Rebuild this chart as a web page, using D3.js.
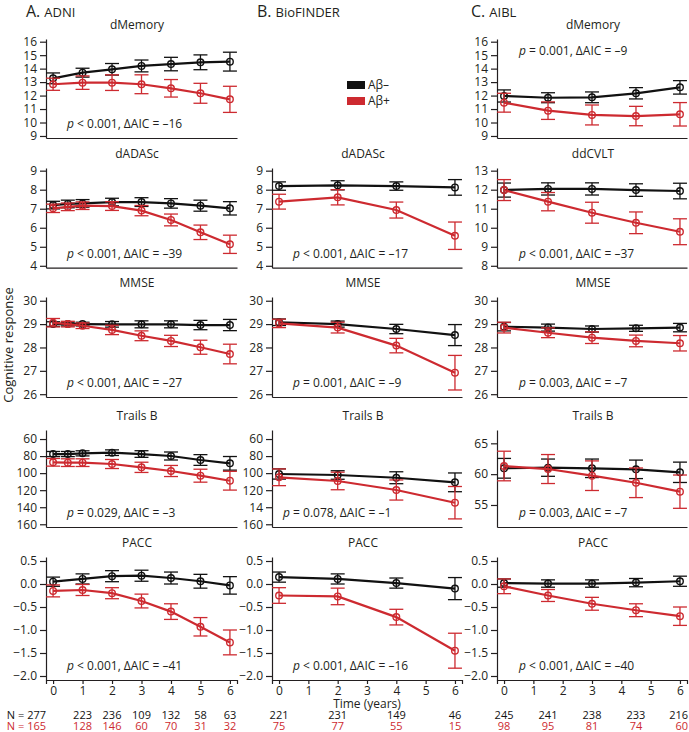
<!DOCTYPE html>
<html>
<head>
<meta charset="utf-8">
<script src="https://cdn.jsdelivr.net/npm/d3@7"></script>
<style>
  body { margin: 0; background: #fff; }
  svg text { font-family: "Open Sans", sans-serif; fill: #231f20; }
</style>
</head>
<body>
<svg id="chart" width="689" height="732"></svg>
<script>
var cohortLetters = ["A.", "B.", "C."];
var cohortNames = ["ADNI", "BioFINDER", "AIBL"];
var groupLabels = ["A\u03b2\u2013", "A\u03b2+"];

var adniVisits = [0, 1, 2, 3, 4, 5, 6];
var adniVisitsDense = [0, 0.5, 1, 2, 3, 4, 5, 6];
var bioVisits = [0, 2, 4, 6];
var aiblVisits = [0, 1.5, 3, 4.5, 6];
var timeTicks = [0, 1, 2, 3, 4, 5, 6];

var titlesADNI = ["dMemory", "dADASc", "MMSE", "Trails B", "PACC"];
var titlesBio = [null, "dADASc", "MMSE", "Trails B", "PACC"];
var titlesAIBL = ["dMemory", "ddCVLT", "MMSE", "Trails B", "PACC"];

// dMemory
var adniMemNeg = [13.28, 13.70, 13.95, 14.20, 14.34, 14.47, 14.52];
var adniMemNegCI = [0.40, 0.33, 0.43, 0.44, 0.50, 0.55, 0.70];
var adniMemPos = [12.84, 12.96, 12.96, 12.84, 12.54, 12.17, 11.72];
var adniMemPosCI = [0.45, 0.50, 0.58, 0.70, 0.65, 0.74, 0.97];
var aiblMemNeg = [11.97, 11.84, 11.87, 12.17, 12.61];
var aiblMemNegCI = [0.45, 0.37, 0.40, 0.42, 0.50];
var aiblMemPos = [11.47, 10.88, 10.56, 10.48, 10.61];
var aiblMemPosCI = [0.70, 0.65, 0.74, 0.72, 0.87];

// dADASc / ddCVLT
var adniAdasNeg = [7.19, 7.25, 7.28, 7.35, 7.35, 7.28, 7.16, 7.02];
var adniAdasNegCI = [0.20, 0.20, 0.20, 0.20, 0.23, 0.25, 0.29, 0.35];
var adniAdasPos = [7.02, 7.10, 7.16, 7.14, 6.90, 6.41, 5.76, 5.13];
var adniAdasPosCI = [0.22, 0.20, 0.20, 0.23, 0.27, 0.31, 0.38, 0.48];
var bioAdasNeg = [8.19, 8.23, 8.19, 8.12];
var bioAdasNegCI = [0.22, 0.24, 0.22, 0.41];
var bioAdasPos = [7.37, 7.60, 6.93, 5.58];
var bioAdasPosCI = [0.39, 0.40, 0.42, 0.72];
var aiblCvltNeg = [11.98, 12.04, 12.04, 11.98, 11.93];
var aiblCvltNegCI = [0.37, 0.32, 0.32, 0.33, 0.41];
var aiblCvltPos = [11.98, 11.37, 10.79, 10.26, 9.79];
var aiblCvltPosCI = [0.55, 0.48, 0.55, 0.57, 0.68];

// MMSE
var adniMmseNeg = [29.00, 29.00, 29.00, 28.99, 28.99, 28.99, 28.96, 28.96];
var adniMmseNegCI = [0.10, 0.08, 0.08, 0.12, 0.15, 0.15, 0.20, 0.24];
var adniMmsePos = [29.06, 29.00, 28.93, 28.75, 28.50, 28.28, 28.01, 27.72];
var adniMmsePosCI = [0.18, 0.12, 0.12, 0.20, 0.21, 0.24, 0.30, 0.42];
var bioMmseNeg = [29.08, 29.00, 28.79, 28.53];
var bioMmseNegCI = [0.14, 0.13, 0.20, 0.45];
var bioMmsePos = [29.03, 28.85, 28.08, 26.92];
var bioMmsePosCI = [0.18, 0.23, 0.31, 0.74];
var aiblMmseNeg = [28.89, 28.85, 28.79, 28.82, 28.85];
var aiblMmseNegCI = [0.18, 0.15, 0.13, 0.13, 0.18];
var aiblMmsePos = [28.85, 28.63, 28.42, 28.28, 28.18];
var aiblMmsePosCI = [0.23, 0.21, 0.25, 0.25, 0.33];

// Trails B
var adniTrailsNeg = [77.6, 77.6, 76.8, 76.0, 77.6, 79.9, 84.6, 88.5];
var adniTrailsNegCI = [3.0, 3.0, 3.0, 3.3, 3.9, 4.7, 6.3, 8.0];
var adniTrailsPos = [87.3, 87.7, 87.7, 89.3, 93.2, 97.5, 103.0, 108.9];
var adniTrailsPosCI = [4.5, 4.5, 4.5, 5.3, 6.0, 6.5, 7.6, 11.0];
var bioTrailsNeg = [101.0, 102.2, 105.4, 110.8];
var bioTrailsNegCI = [6.0, 5.0, 7.0, 11.0];
var bioTrailsPos = [104.9, 109.2, 119.8, 134.7];
var bioTrailsPosCI = [9.8, 10.3, 11.8, 19.0];
var aiblTrailsNeg = [60.95, 61.05, 60.95, 60.78, 60.30];
var aiblTrailsNegCI = [1.6, 1.4, 1.5, 1.5, 1.65];
var aiblTrailsPos = [61.32, 60.83, 59.75, 58.60, 57.16];
var aiblTrailsPosCI = [2.4, 2.35, 2.4, 2.4, 2.7];

// PACC
var adniPaccNeg = [0.05, 0.11, 0.17, 0.18, 0.13, 0.06, -0.03];
var adniPaccNegCI = [0.10, 0.11, 0.12, 0.12, 0.13, 0.15, 0.19];
var adniPaccPos = [-0.15, -0.13, -0.20, -0.37, -0.60, -0.93, -1.27];
var adniPaccPosCI = [0.13, 0.12, 0.12, 0.15, 0.17, 0.20, 0.27];
var bioPaccNeg = [0.15, 0.11, 0.02, -0.10];
var bioPaccNegCI = [0.11, 0.11, 0.11, 0.24];
var bioPaccPos = [-0.25, -0.27, -0.72, -1.45];
var bioPaccPosCI = [0.17, 0.18, 0.17, 0.38];
var aiblPaccNeg = [0.02, 0.01, 0.01, 0.03, 0.06];
var aiblPaccNegCI = [0.09, 0.08, 0.08, 0.09, 0.11];
var aiblPaccPos = [-0.05, -0.25, -0.43, -0.57, -0.70];
var aiblPaccPosCI = [0.16, 0.13, 0.14, 0.14, 0.20];

// y tick values / labels
var memTicks = [9, 10, 11, 12, 13, 14, 15, 16];
var adasTicks = [4, 5, 6, 7, 8, 9];
var cvltTicks = [8, 9, 10, 11, 12, 13];
var mmseTicks = [26, 27, 28, 29, 30];
var trailsTicks = [60, 80, 100, 120, 140, 160];
var trailsLabelsBio = ["60", "80", "100", "120", "14", "160"];
var aiblTrailsTicks = [55, 60, 65];
var paccTicks = [0.5, 0, -0.5, -1, -1.5, -2];

// model comparison text
var adniP = ["< 0.001", "< 0.001", "< 0.001", "= 0.029", "< 0.001"];
var adniAIC = ["\u201316", "\u201339", "\u201327", "\u20133", "\u201341"];
var bioP = [null, "< 0.001", "= 0.001", "= 0.078", "< 0.001"];
var bioAIC = [null, "\u201317", "\u20139", "\u20131", "\u201316"];
var aiblP = ["= 0.001", "< 0.001", "= 0.003", "= 0.003", "< 0.001"];
var aiblAIC = ["\u20139", "\u201337", "\u20137", "\u20137", "\u201340"];

// participants per visit
var adniNneg = [277, 223, 236, 109, 132, 58, 63];
var adniNpos = [165, 128, 146, 60, 70, 31, 32];
var bioNneg = [221, 231, 149, 46];
var bioNpos = [75, 77, 55, 15];
var aiblNneg = [245, 241, 238, 233, 216];
var aiblNpos = [98, 95, 81, 74, 60];

var black = "#111111", red = "#cd2a30";

var svg = d3.select("#chart");

// layout
var cols = [
  {x0: 46, x1: 237, titleX: 137, statX: 67},
  {x0: 272, x1: 462, titleX: 363, statX: 293},
  {x0: 497, x1: 687, titleX: 593, statX: 519}
];
var rows = [
  {top: 39, bottom: 138},
  {top: 168, bottom: 267.7},
  {top: 297, bottom: 397},
  {top: 430, bottom: 527},
  {top: 557, bottom: 680}
];
var paccDom = [0.587, -2.087];

var panels = [
  // ADNI
  {c: 0, r: 0, title: titlesADNI[0], dom: [16.2, 8.85], ticks: memTicks, t: adniVisits,
    neg: adniMemNeg, negCI: adniMemNegCI, pos: adniMemPos, posCI: adniMemPosCI, p: adniP[0], aic: adniAIC[0]},
  {c: 0, r: 1, title: titlesADNI[1], dom: [9.14, 3.9], ticks: adasTicks, t: adniVisitsDense,
    neg: adniAdasNeg, negCI: adniAdasNegCI, pos: adniAdasPos, posCI: adniAdasPosCI, p: adniP[1], aic: adniAIC[1]},
  {c: 0, r: 2, title: titlesADNI[2], dom: [30.16, 25.88], ticks: mmseTicks, t: adniVisitsDense,
    neg: adniMmseNeg, negCI: adniMmseNegCI, pos: adniMmsePos, posCI: adniMmsePosCI, p: adniP[2], aic: adniAIC[2]},
  {c: 0, r: 3, title: titlesADNI[3], dom: [49.4, 163.2], ticks: trailsTicks, t: adniVisitsDense,
    neg: adniTrailsNeg, negCI: adniTrailsNegCI, pos: adniTrailsPos, posCI: adniTrailsPosCI, p: adniP[3], aic: adniAIC[3]},
  {c: 0, r: 4, title: titlesADNI[4], dom: paccDom, ticks: paccTicks, t: adniVisits, fmt: d3.format(".1f"),
    neg: adniPaccNeg, negCI: adniPaccNegCI, pos: adniPaccPos, posCI: adniPaccPosCI, p: adniP[4], aic: adniAIC[4]},
  // BioFINDER
  {c: 1, r: 1, title: titlesBio[1], dom: [9.14, 3.9], ticks: adasTicks, t: bioVisits,
    neg: bioAdasNeg, negCI: bioAdasNegCI, pos: bioAdasPos, posCI: bioAdasPosCI, p: bioP[1], aic: bioAIC[1]},
  {c: 1, r: 2, title: titlesBio[2], dom: [30.16, 25.88], ticks: mmseTicks, t: bioVisits,
    neg: bioMmseNeg, negCI: bioMmseNegCI, pos: bioMmsePos, posCI: bioMmsePosCI, p: bioP[2], aic: bioAIC[2]},
  {c: 1, r: 3, title: titlesBio[3], dom: [49.4, 163.2], ticks: trailsTicks, t: bioVisits, labels: trailsLabelsBio, statDx: -10,
    neg: bioTrailsNeg, negCI: bioTrailsNegCI, pos: bioTrailsPos, posCI: bioTrailsPosCI, p: bioP[3], aic: bioAIC[3]},
  {c: 1, r: 4, title: titlesBio[4], dom: paccDom, ticks: paccTicks, t: bioVisits, fmt: d3.format(".1f"),
    neg: bioPaccNeg, negCI: bioPaccNegCI, pos: bioPaccPos, posCI: bioPaccPosCI, p: bioP[4], aic: bioAIC[4]},
  // AIBL
  {c: 2, r: 0, title: titlesAIBL[0], dom: [16.2, 8.85], ticks: memTicks, t: aiblVisits, statTop: true,
    neg: aiblMemNeg, negCI: aiblMemNegCI, pos: aiblMemPos, posCI: aiblMemPosCI, p: aiblP[0], aic: aiblAIC[0]},
  {c: 2, r: 1, title: titlesAIBL[1], dom: [13.14, 7.9], ticks: cvltTicks, t: aiblVisits,
    neg: aiblCvltNeg, negCI: aiblCvltNegCI, pos: aiblCvltPos, posCI: aiblCvltPosCI, p: aiblP[1], aic: aiblAIC[1]},
  {c: 2, r: 2, title: titlesAIBL[2], dom: [30.16, 25.88], ticks: mmseTicks, t: aiblVisits,
    neg: aiblMmseNeg, negCI: aiblMmseNegCI, pos: aiblMmsePos, posCI: aiblMmsePosCI, p: aiblP[2], aic: aiblAIC[2]},
  {c: 2, r: 3, title: titlesAIBL[3], dom: [67.16, 51.43], ticks: aiblTrailsTicks, t: aiblVisits,
    neg: aiblTrailsNeg, negCI: aiblTrailsNegCI, pos: aiblTrailsPos, posCI: aiblTrailsPosCI, p: aiblP[3], aic: aiblAIC[3]},
  {c: 2, r: 4, title: titlesAIBL[4], dom: paccDom, ticks: paccTicks, t: aiblVisits, fmt: d3.format(".1f"),
    neg: aiblPaccNeg, negCI: aiblPaccNegCI, pos: aiblPaccPos, posCI: aiblPaccPosCI, p: aiblP[4], aic: aiblAIC[4]}
];

function styleAxis(g) {
  g.attr("font-family", null).attr("font-size", null);
  g.selectAll("path, line").attr("stroke", "#231f20").attr("stroke-width", 1.2);
  g.selectAll("text").style("font-size", "12px").attr("fill", "#231f20");
}

function drawSeries(g, x, y, times, vals, ci, color) {
  var pts = times.map(function(t, i) { return {t: t, v: vals[i], lo: vals[i] - ci[i], hi: vals[i] + ci[i]}; });
  var line = d3.line().x(function(d) { return x(d.t); }).y(function(d) { return y(d.v); });

  g.append("path")
    .datum(pts)
    .attr("d", line)
    .attr("fill", "none")
    .attr("stroke", color)
    .attr("stroke-width", 2.2);

  var eb = g.selectAll(null).data(pts).enter().append("g")
    .attr("stroke", color)
    .attr("stroke-width", 1.3);
  eb.append("line")
    .attr("x1", function(d) { return x(d.t); }).attr("x2", function(d) { return x(d.t); })
    .attr("y1", function(d) { return y(d.lo); }).attr("y2", function(d) { return y(d.hi); });
  eb.append("line")
    .attr("x1", function(d) { return x(d.t) - 7; }).attr("x2", function(d) { return x(d.t) + 7; })
    .attr("y1", function(d) { return y(d.lo); }).attr("y2", function(d) { return y(d.lo); });
  eb.append("line")
    .attr("x1", function(d) { return x(d.t) - 7; }).attr("x2", function(d) { return x(d.t) + 7; })
    .attr("y1", function(d) { return y(d.hi); }).attr("y2", function(d) { return y(d.hi); });
  eb.append("circle")
    .attr("cx", function(d) { return x(d.t); })
    .attr("cy", function(d) { return y(d.v); })
    .attr("r", 3.3)
    .attr("fill", "none")
    .attr("stroke-width", 1.4);
}

panels.forEach(function(p) {
  var col = cols[p.c], row = rows[p.r];
  var x = d3.scaleLinear().domain([-0.24, 6.24]).range([col.x0, col.x1]);
  var y = d3.scaleLinear().domain(p.dom).range([row.top, row.bottom]);
  var g = svg.append("g");

  var ya = d3.axisLeft(y).tickValues(p.ticks).tickSize(6).tickPadding(3).tickSizeOuter(0);
  if (p.labels) ya.tickFormat(function(d, i) { return p.labels[i]; });
  else if (p.fmt) ya.tickFormat(p.fmt);
  else ya.tickFormat(d3.format("d"));
  g.append("g").attr("transform", "translate(" + col.x0 + ",0)").call(ya).call(styleAxis);

  var xa = d3.axisBottom(x).tickSizeOuter(0);
  if (p.r === 4) xa.tickValues(timeTicks).tickSize(4).tickPadding(2).tickFormat(d3.format("d"));
  else xa.tickValues([]);
  g.append("g").attr("transform", "translate(0," + row.bottom + ")").call(xa).call(styleAxis);

  g.append("text")
    .attr("x", col.titleX)
    .attr("y", row.top - 10)
    .attr("text-anchor", "middle")
    .style("font-size", "12px")
    .text(p.title);

  drawSeries(g, x, y, p.t, p.neg, p.negCI, black);
  drawSeries(g, x, y, p.t, p.pos, p.posCI, red);

  var st = g.append("text")
    .attr("x", col.statX + (p.statDx || 0))
    .attr("y", p.statTop ? row.top + 16 : row.bottom - 10)
    .style("font-size", "12px");
  st.append("tspan").style("font-style", "italic").text("p");
  st.append("tspan").text(" " + p.p + ", \u0394AIC = " + p.aic);
});

// cohort headings
cols.forEach(function(col, i) {
  var h = svg.append("text").attr("x", [26, 257, 471][i]).attr("y", 17);
  h.append("tspan").style("font-size", "16px").text(cohortLetters[i]);
  h.append("tspan").attr("dx", 4).style("font-size", "13px").text(cohortNames[i]);
});

// legend
var lg = svg.append("g").attr("transform", "translate(347,81)");
[black, red].forEach(function(c, i) {
  lg.append("rect").attr("x", 0).attr("y", i * 16).attr("width", 18).attr("height", 8).attr("fill", c);
  lg.append("text").attr("x", 21).attr("y", i * 16 + 8).style("font-size", "12px").text(groupLabels[i]);
});

// axis titles
svg.append("text")
  .attr("transform", "translate(13,345) rotate(-90)")
  .attr("text-anchor", "middle")
  .style("font-size", "13px")
  .text("Cognitive response");
svg.append("text")
  .attr("x", 367).attr("y", 708)
  .attr("text-anchor", "middle")
  .style("font-size", "12px")
  .text("Time (years)");

// participant counts
var nSets = [
  {c: 0, t: adniVisits, neg: adniNneg, pos: adniNpos},
  {c: 1, t: bioVisits, neg: bioNneg, pos: bioNpos},
  {c: 2, t: aiblVisits, neg: aiblNneg, pos: aiblNpos}
];
nSets.forEach(function(s) {
  var col = cols[s.c];
  var x = d3.scaleLinear().domain([-0.24, 6.24]).range([col.x0, col.x1]);
  var last = s.t.length - 1;
  [[s.neg, black, 719], [s.pos, red, 729.5]].forEach(function(row) {
    svg.append("g").selectAll("text").data(row[0]).enter().append("text")
      .attr("x", function(d, i) {
        if (s.c === 0 && i === 0) return 46;
        if (s.c === 2 && i === last) return 688;
        return x(s.t[i]);
      })
      .attr("y", row[2])
      .attr("text-anchor", function(d, i) {
        if (s.c === 0 && i === 0) return "end";
        if (s.c === 2 && i === last) return "end";
        return "middle";
      })
      .style("font-size", "11px")
      .style("fill", row[1])
      .text(function(d, i) { return s.c === 0 && i === 0 ? "N = " + d : d; });
  });
});
</script>
</body>
</html>
